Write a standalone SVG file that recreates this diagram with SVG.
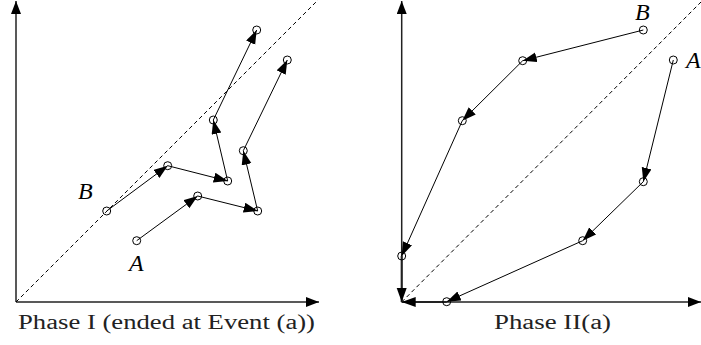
<svg xmlns="http://www.w3.org/2000/svg" width="701" height="345" viewBox="0 0 701 345">
<style>
.ax{stroke:#222;stroke-width:1.5;fill:none}
.c{stroke:#000;stroke-width:1;fill:none;marker-end:url(#ah)}
.ca{stroke:#222;stroke-width:2;fill:none;marker-end:url(#ah)}
.d{stroke:#000;stroke-width:1;fill:none;stroke-dasharray:4,3}
.n{stroke:#000;stroke-width:1;fill:none}
text{font-family:'Liberation Serif','Times New Roman',Times,serif}
.lab{font-style:italic;font-size:24px;fill:#000}
.cap{font-size:20px;fill:#222}
</style>
<defs>
<marker id="ah" markerUnits="userSpaceOnUse" markerWidth="16" markerHeight="11" refX="14" refY="5" orient="auto">
<path d="M0,0 L14,5 L0,10 z" fill="#000"/>
</marker>
<marker id="ax" markerUnits="userSpaceOnUse" markerWidth="14" markerHeight="11" refX="13" refY="5" orient="auto">
<path d="M0,0 L13,5 L0,10 z" fill="#000"/>
</marker>
</defs>
<g id="axes">
<line class="ax" x1="16" y1="302" x2="16" y2="1" marker-end="url(#ax)"/>
<line class="ax" x1="16" y1="302" x2="319" y2="302" marker-end="url(#ax)"/>
<line class="ax" x1="401.7" y1="302" x2="401.7" y2="1" marker-end="url(#ax)"/>
<line class="ax" x1="401.7" y1="302" x2="701" y2="302" marker-end="url(#ax)"/>
<line class="d" x1="16" y1="302" x2="318" y2="0"/>
<line class="d" x1="401.7" y1="302" x2="703" y2="0"/>
</g>
<g id="connectors">
<line class="c" x1="136.7" y1="240.7" x2="197.7" y2="196"/>
<line class="c" x1="197.7" y1="196" x2="257.7" y2="211"/>
<line class="c" x1="257.7" y1="211" x2="243.3" y2="150.7"/>
<line class="c" x1="243.3" y1="150.7" x2="287.3" y2="60"/>
<line class="c" x1="106.7" y1="211" x2="167.7" y2="165.7"/>
<line class="c" x1="167.7" y1="165.7" x2="227.7" y2="181"/>
<line class="c" x1="227.7" y1="181" x2="213.3" y2="120"/>
<line class="c" x1="213.3" y1="120" x2="256.7" y2="30"/>
<line class="c" x1="643.3" y1="30" x2="522.7" y2="60.7"/>
<line class="c" x1="522.7" y1="60.7" x2="462.3" y2="120.7"/>
<line class="c" x1="462.3" y1="120.7" x2="401.7" y2="256"/>
<line class="ca" x1="401.7" y1="256" x2="401.7" y2="302"/>
<line class="c" x1="673.3" y1="60" x2="643.3" y2="181.7"/>
<line class="c" x1="643.3" y1="181.7" x2="582.7" y2="240.7"/>
<line class="c" x1="582.7" y1="240.7" x2="446.7" y2="301.7"/>
<line class="ca" x1="446.7" y1="302" x2="401.7" y2="302"/>
</g>
<g id="phase1-A">
<circle class="n" cx="136.7" cy="240.7" r="4"/>
<circle class="n" cx="197.7" cy="196" r="4"/>
<circle class="n" cx="257.7" cy="211" r="4"/>
<circle class="n" cx="243.3" cy="150.7" r="4"/>
<circle class="n" cx="287.3" cy="60" r="4"/>
<text class="lab" x="129" y="271">A</text>
</g>
<g id="phase1-B">
<circle class="n" cx="106.7" cy="211" r="4"/>
<circle class="n" cx="167.7" cy="165.7" r="4"/>
<circle class="n" cx="227.7" cy="181" r="4"/>
<circle class="n" cx="213.3" cy="120" r="4"/>
<circle class="n" cx="256.7" cy="30" r="4"/>
<text class="lab" x="78" y="199">B</text>
</g>
<g id="phase2-B">
<circle class="n" cx="643.3" cy="30" r="4"/>
<circle class="n" cx="522.7" cy="60.7" r="4"/>
<circle class="n" cx="462.3" cy="120.7" r="4"/>
<circle class="n" cx="401.7" cy="256" r="4"/>
<text class="lab" x="635" y="20">B</text>
</g>
<g id="phase2-A">
<circle class="n" cx="673.3" cy="60" r="4"/>
<circle class="n" cx="643.3" cy="181.7" r="4"/>
<circle class="n" cx="582.7" cy="240.7" r="4"/>
<circle class="n" cx="446.7" cy="301.7" r="4"/>
<text class="lab" x="686" y="68">A</text>
</g>
<g id="captions">
<text class="cap" x="18" y="328.5" textLength="297" lengthAdjust="spacingAndGlyphs">Phase I (ended at Event (a))</text>
<text class="cap" x="494" y="328.5" textLength="117" lengthAdjust="spacingAndGlyphs">Phase II(a)</text>
</g>
</svg>
